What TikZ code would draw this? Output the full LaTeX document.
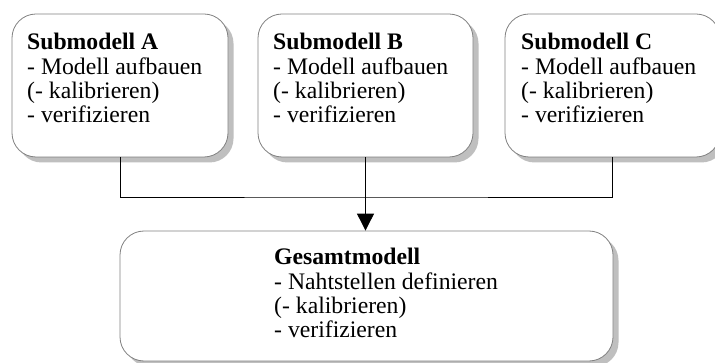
\documentclass[tikz,border=0pt]{standalone}
\usepackage{fontspec}
\setmainfont{Liberation Serif}
\usetikzlibrary{arrows.meta,shadows}

\tikzset{
  modelbox/.style={draw=black!50, line width=0.8pt, fill=white,
    rounded corners=24pt, inner sep=0pt,
    drop shadow={shadow xshift=5.5pt, shadow yshift=-5.5pt,
      fill=black!25, opacity=1}},
  % base anchor of a multi-line node sits on its last line
  boxtext/.style={anchor=base west, inner sep=0pt, align=left,
    font=\fontsize{23.7}{24.2}\selectfont},
  link/.style={draw=black, line width=0.9pt},
}

\begin{document}
\begin{tikzpicture}[x=1pt, y=-1pt]
  \useasboundingbox (0,0) rectangle (715,363);

  % sub-models
  \node[modelbox, minimum width=216pt, minimum height=143pt] (A) at (120,85.5) {};
  \node[modelbox, minimum width=215pt, minimum height=143pt] (B) at (365.5,85.5) {};
  \node[modelbox, minimum width=215pt, minimum height=143pt] (C) at (612.5,85.5) {};

  % overall model
  \node[modelbox, minimum width=493pt, minimum height=130pt] (G) at (366.5,296) {};

  \node[boxtext] (tA) at (27,122.6) {\textbf{Submodell A}\\- Modell aufbauen\\(- kalibrieren)\\- verifizieren};
  \node[boxtext] (tB) at (273,122.6) {\textbf{Submodell B}\\- Modell aufbauen\\(- kalibrieren)\\- verifizieren};
  \node[boxtext] (tC) at (521,122.6) {\textbf{Submodell C}\\- Modell aufbauen\\(- kalibrieren)\\- verifizieren};
  \node[boxtext] (tG) at (274,337.6) {\textbf{Gesamtmodell}\\- Nahtstellen definieren\\(- kalibrieren)\\- verifizieren};

  % collecting line
  \coordinate (bus) at (366,197);
  \draw[link] (A.south) |- (bus) -| (C.south);
  \draw[link, -{Triangle[width=17pt, length=17pt]}] (B.south) -- (B.south |- G.north);
\end{tikzpicture}
\end{document}
